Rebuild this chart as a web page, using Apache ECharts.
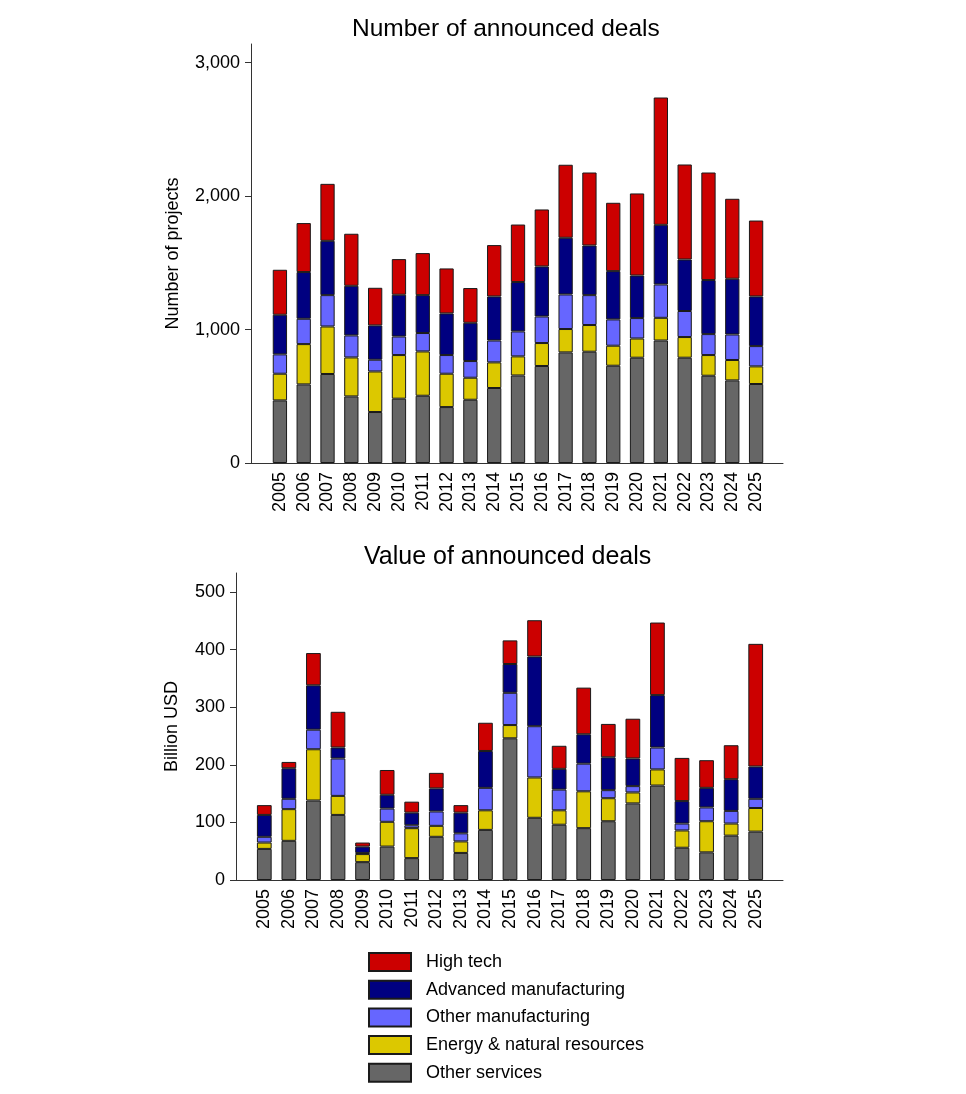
<!DOCTYPE html>
<html>
<head>
<meta charset="utf-8">
<title>Announced deals</title>
<script src="https://cdn.jsdelivr.net/npm/echarts@6/dist/echarts.min.js"></script>
<style>
    html, body { margin: 0; padding: 0; background: #fff; }
    #main { width: 966px; height: 1094px; }
</style>
</head>
<body>
<div id="main"></div>
<script>
var years = ['2005', '2006', '2007', '2008', '2009', '2010', '2011', '2012', '2013', '2014', '2015',
    '2016', '2017', '2018', '2019', '2020', '2021', '2022', '2023', '2024', '2025'];

// number of projects
var countServices = [469, 589, 667, 499, 382, 482, 504, 419, 474, 562, 656, 727, 829, 834, 729, 789, 918, 789, 654, 619, 592];
var countEnergy = [200, 302, 356, 292, 304, 327, 332, 250, 165, 192, 143, 172, 175, 200, 150, 144, 170, 155, 155, 153, 132];
var countOtherMfg = [145, 190, 235, 165, 88, 139, 138, 140, 125, 164, 187, 199, 259, 224, 197, 153, 250, 195, 157, 191, 152];
var countAdvMfg = [297, 350, 407, 372, 257, 313, 284, 312, 287, 330, 370, 375, 425, 372, 362, 319, 447, 386, 405, 418, 372];
var countHighTech = [337, 367, 427, 390, 282, 267, 315, 337, 260, 385, 431, 427, 547, 547, 512, 615, 954, 712, 806, 599, 569];

// billion USD
var valueServices = [54, 68, 138, 113, 31, 58, 38, 75, 47, 87, 246, 108, 96, 90, 102, 133, 164, 56, 48, 77, 84];
var valueEnergy = [11, 55, 89, 33, 14, 43, 52, 19, 20, 34, 23, 70, 25, 64, 40, 19, 28, 30, 54, 21, 41];
var valueOtherMfg = [10, 18, 34, 65, 2, 23, 5, 25, 14, 39, 56, 89, 36, 48, 14, 11, 38, 12, 24, 22, 16];
var valueAdvMfg = [38, 53, 77, 19, 11, 24, 22, 40, 36, 64, 50, 121, 36, 51, 57, 48, 91, 39, 34, 55, 56];
var valueHighTech = [17, 11, 56, 62, 7, 43, 19, 27, 13, 49, 41, 63, 40, 81, 58, 69, 126, 75, 48, 59, 213];

var countTicks = [0, 1000, 2000, 3000];
var valueTicks = [0, 100, 200, 300, 400, 500];

var names = ['Other services', 'Energy & natural resources', 'Other manufacturing', 'Advanced manufacturing', 'High tech'];
var colors = ['#666666', '#dcc800', '#6666ff', '#000080', '#cc0000'];

var font = 'Liberation Sans, Arial, sans-serif';
var axisColor = '#333';

var countMax = 3140;
var valueMax = 533;

// frame grids carry the axis lines and the y labels,
// bar grids are a bit narrower so the bars sit in from the axis ends
var frameTop = {left: 251, right: 183, top: 44, bottom: 631};
var barsTop = {left: 268, right: 198, top: 44, bottom: 631};
var frameBottom = {left: 236, right: 183, top: 573, bottom: 214};
var barsBottom = {left: 252, right: 198, top: 573, bottom: 214};

function frameX(grid) {
    return {
        type: 'value', gridIndex: grid, min: 0, max: 1,
        splitLine: {show: false},
        axisLine: {show: true, lineStyle: {color: axisColor, width: 1}},
        axisTick: {show: false},
        axisLabel: {show: false}
    };
}

function barsX(grid) {
    return {
        type: 'category', gridIndex: grid, data: years,
        axisLine: {show: false},
        axisTick: {show: false},
        axisLabel: {
            interval: 0, rotate: 90, margin: 9,
            color: '#000', fontSize: 18, fontFamily: font
        }
    };
}

function frameY(grid, max, ticks, name, gap) {
    return {
        type: 'value', gridIndex: grid, min: 0, max: max,
        name: name,
        nameLocation: 'middle',
        nameGap: gap,
        nameTextStyle: {color: '#000', fontSize: 18, fontFamily: font},
        splitLine: {show: false},
        axisLine: {show: true, lineStyle: {color: axisColor, width: 1}},
        axisTick: {show: true, length: 6, customValues: ticks, lineStyle: {color: axisColor, width: 1}},
        axisLabel: {
            customValues: ticks,
            margin: 11,
            color: '#000', fontSize: 18, fontFamily: font,
            formatter: function (v) { return v.toLocaleString('en-US'); }
        }
    };
}

function barsY(grid, max) {
    return {type: 'value', gridIndex: grid, min: 0, max: max, show: false, splitLine: {show: false}};
}

var countData = [countServices, countEnergy, countOtherMfg, countAdvMfg, countHighTech];
var valueData = [valueServices, valueEnergy, valueOtherMfg, valueAdvMfg, valueHighTech];

var series = [];
for (var k = 0; k < names.length; k++) {
    var style = {color: colors[k], borderColor: '#1a1a1a', borderWidth: 1};
    series.push({
        name: names[k], type: 'bar', stack: 'count',
        xAxisIndex: 1, yAxisIndex: 1,
        barWidth: '60%',
        itemStyle: style,
        data: countData[k]
    });
    series.push({
        name: names[k], type: 'bar', stack: 'value',
        xAxisIndex: 3, yAxisIndex: 3,
        barWidth: '60%',
        itemStyle: style,
        data: valueData[k]
    });
}

var chart = echarts.init(document.getElementById('main'));

var option = {
    animation: false,
    backgroundColor: '#fff',
    title: [
        {
            text: 'Number of announced deals',
            left: 347, top: 12,
            textStyle: {color: '#000', fontSize: 24.5, fontWeight: 'normal', fontFamily: font}
        },
        {
            text: 'Value of announced deals',
            left: 359, top: 540,
            textStyle: {color: '#000', fontSize: 25, fontWeight: 'normal', fontFamily: font}
        }
    ],
    legend: {
        orient: 'vertical',
        left: 368,
        top: 952,
        padding: 0,
        itemWidth: 42,
        itemHeight: 18,
        itemGap: 7.7,
        icon: 'rect',
        data: ['High tech', 'Advanced manufacturing', 'Other manufacturing', 'Energy & natural resources', 'Other services'],
        textStyle: {color: '#000', fontSize: 18, fontFamily: font, lineHeight: 18, padding: [0, 0, 0, 10]}
    },
    grid: [frameTop, barsTop, frameBottom, barsBottom],
    xAxis: [frameX(0), barsX(1), frameX(2), barsX(3)],
    yAxis: [
        frameY(0, countMax, countTicks, 'Number of projects', 69),
        barsY(1, countMax),
        frameY(2, valueMax, valueTicks, 'Billion USD', 55),
        barsY(3, valueMax)
    ],
    series: series
};

chart.setOption(option);
</script>
</body>
</html>
